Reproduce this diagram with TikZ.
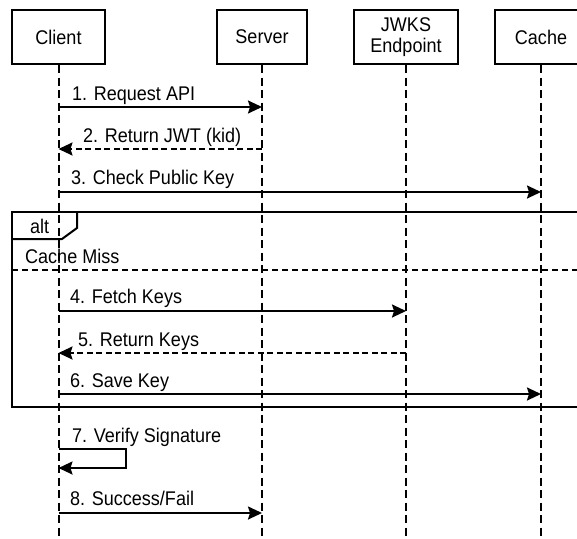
\documentclass[tikz,border=0pt]{standalone}
\usepackage{fontspec}
\setmainfont[FakeStretch=0.91]{Liberation Sans}
\usetikzlibrary{arrows.meta}
\begin{document}
\begin{tikzpicture}[x=1pt,y=-1pt,
  every node/.style={font=\fontsize{19.8}{21}\selectfont, inner sep=0pt},
  actor/.style={draw, line width=2pt, minimum height=54pt, align=center},
  life/.style={line width=2pt, dash pattern=on 8pt off 4.5pt},
  msg/.style={line width=2pt, -{Stealth[length=14pt,width=13pt,inset=2pt]}},
  reply/.style={msg, dash pattern=on 6pt off 3.5pt},
  lbl/.style={anchor=base west},
  frame/.style={line width=2pt}]
\useasboundingbox (0,0) rectangle (577,538);
\clip (0,0) rectangle (577,538);
% participants
\node[actor, minimum width=93pt] (client) at (58.5,37) {Client};
\node[actor, minimum width=90pt] (server) at (262,37) {Server};
\node[actor, minimum width=104pt] (jwks) at (406,37) {JWKS\\Endpoint};
\node[actor, minimum width=92pt] (cache) at (541,37) {Cache};
% lifeline ends
\coordinate (clientEnd) at (58.5,540);
\coordinate (serverEnd) at (262,540);
\coordinate (jwksEnd) at (406,540);
\coordinate (cacheEnd) at (541,540);
\draw[life] (client.south) -- (clientEnd);
\draw[life] (server.south) -- (serverEnd);
\draw[life] (jwks.south) -- (jwksEnd);
\draw[life] (cache.south) -- (cacheEnd);
% alt frame
\draw[frame] (590,212) -- (12,212) -- (12,407) -- (590,407);
\draw[frame] (12,239) -- (62,239) -- (77,228) -- (77,212);
\node[lbl] (altlbl) at (30,233) {alt};
\node[lbl] (misslbl) at (25,263) {Cache Miss};
\draw[line width=2pt, dash pattern=on 6pt off 4pt] (12,270) -- (590,270);
% messages
\draw[msg] (client |- 0,107) -- (server |- 0,107);
\node[lbl] (m1) at (72,100) {1. Request API};
\draw[reply] (server |- 0,149) -- (client |- 0,149);
\node[lbl] (m2) at (83,142) {2. Return JWT (kid)};
\draw[msg] (client |- 0,192) -- (cache |- 0,192);
\node[lbl] (m3) at (71,184) {3. Check Public Key};
\draw[msg] (client |- 0,311) -- (jwks |- 0,311);
\node[lbl] (m4) at (70,303) {4. Fetch Keys};
\draw[reply] (jwks |- 0,353) -- (client |- 0,353);
\node[lbl] (m5) at (78,346) {5. Return Keys};
\draw[msg] (client |- 0,394) -- (cache |- 0,394);
\node[lbl] (m6) at (70,387) {6. Save Key};
\draw[msg] (client |- 0,449) -- (126,449) -- (126,468) -- (client |- 0,468);
\node[lbl] (m7) at (72,442) {7. Verify Signature};
\draw[msg] (client |- 0,513) -- (server |- 0,513);
\node[lbl] (m8) at (70,505) {8. Success/Fail};
\end{tikzpicture}
\end{document}
